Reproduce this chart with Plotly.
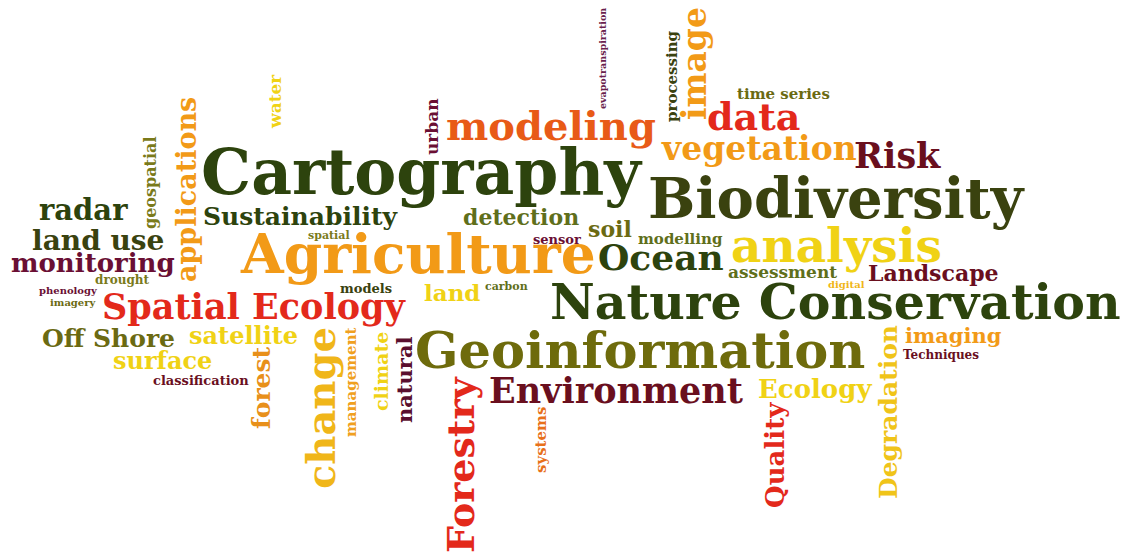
import plotly.graph_objects as go

# Word cloud data
words = ["Cartography", "Biodiversity", "Agriculture", "Nature Conservation", "Geoinformation",
         "Environment", "Spatial Ecology", "analysis", "modeling", "data", "vegetation", "Risk",
         "Ocean", "Sustainability", "detection", "soil", "sensor", "modelling", "spatial",
         "radar", "land use", "monitoring", "drought", "phenology", "imagery", "Off Shore",
         "satellite", "surface", "classification", "models", "land", "carbon", "assessment",
         "Landscape", "digital", "imaging", "Techniques", "Ecology", "time series",
         "image", "processing", "evapotranspiration", "urban", "water", "applications",
         "geospatial", "forest", "change", "management", "climate", "natural", "Forestry",
         "systems", "Quality", "Degradation"]

# word centres (pixel space of the cloud)
pos_x = [422, 836, 418, 835, 640, 616, 254, 836, 551, 753, 759, 897,
         661, 300, 521, 610, 557, 680, 329,
         83, 98, 93, 122, 68, 73, 108,
         243, 162, 201, 366, 452, 506, 782,
         933, 846, 953, 941, 815, 783,
         694, 672, 602, 432, 275, 186,
         150, 261, 320, 351, 381, 404, 460,
         541, 775, 888]
pos_y = [172, 198, 253, 302, 350, 390, 306, 245, 125, 116, 148, 155,
         257, 216, 217, 229, 239, 239, 235,
         210, 240, 263, 280, 290, 302, 338,
         335, 360, 380, 288, 292, 286, 272,
         273, 284, 335, 355, 389, 94,
         64, 76, 59, 127, 102, 190,
         183, 388, 408, 382, 372, 380, 465,
         440, 455, 412]

sizes = [63, 56, 55, 49, 51, 35, 35, 47, 40, 38, 33, 35,
         36, 25, 22, 22, 13, 15, 11,
         29, 28, 26, 12, 10, 10, 25,
         24, 24, 13, 13, 23, 11, 17,
         22, 10, 21, 12, 26, 15,
         33, 15, 9.5, 17, 17, 27,
         16, 25, 40, 15, 19, 21, 38,
         15, 26, 25]

angles = [0] * 39 + [-90] * 16

DG = "#2d430d"
DG2 = "#3a420f"
OL = "#6b6a12"
OL2 = "#5f6f1b"
OL3 = "#7a7a1a"
OR = "#f29a17"
OR2 = "#e85a17"
RD = "#e3291b"
MR = "#6a0f1e"
MR2 = "#6a0f34"
YL = "#f0d215"
GD = "#f0b619"

colors = [DG, DG2, OR, DG, "#6e6b0c", MR, RD, YL, OR2, RD, OR, MR,
          DG, DG, OL2, OL, MR2, OL2, OL3,
          DG, DG2, MR2, OL3, MR2, OL, OL,
          YL, YL, MR, DG2, YL, OL2, OL2,
          MR, GD, OR, MR, YL, OL,
          OR, DG2, "#6a1f4e", MR2, YL, OR,
          OL3, "#e8901a", GD, "#f0a020", YL, "#5a0f2e", RD,
          "#e8701a", RD, "#f0c419"]

# the page body has an 8px margin: the figure covers page pixels 8..1131 x 8..554
X0, X1, Y0, Y1 = 8, 1131, 8, 554

fig = go.Figure()
fig.add_trace(go.Scatter(x=[X0, X1], y=[Y0, Y1], mode="markers",
                         marker=dict(opacity=0), hoverinfo="skip", showlegend=False))

for w, x, y, s, a, c in zip(words, pos_x, pos_y, sizes, angles, colors):
    fig.add_annotation(x=x, y=y, xref="x", yref="y", text=w, showarrow=False,
                       textangle=a, xanchor="center", yanchor="middle", borderpad=0,
                       font=dict(family="DejaVu Serif", size=s, color=c, weight="bold"))

fig.update_layout(width=X1 - X0, height=Y1 - Y0, margin=dict(l=0, r=0, t=0, b=0),
                  paper_bgcolor="white", plot_bgcolor="white",
                  xaxis=dict(range=[X0, X1], visible=False, fixedrange=True),
                  yaxis=dict(range=[Y1, Y0], visible=False, fixedrange=True),
                  showlegend=False)

fig.write_html("out.html")
